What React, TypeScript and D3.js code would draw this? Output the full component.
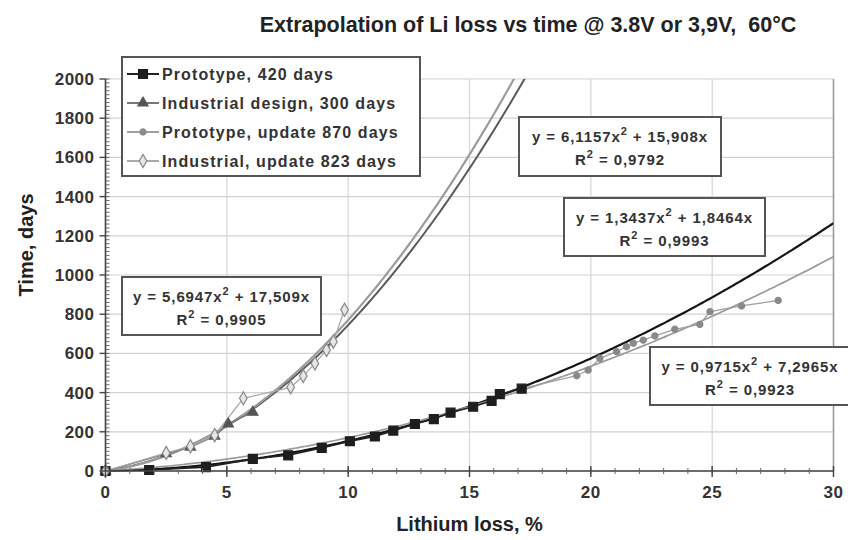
import React from "react";
import * as d3 from "d3";

const W = 848;
const H = 540;

// Prototype cell, 420 days
const prototypeLoss = [0, 1.8, 4.14, 6.07, 7.53, 8.91, 10.07, 11.1, 11.86, 12.75, 13.53, 14.22, 15.15, 15.91, 16.25, 17.15];
const prototypeDays = [0, 5, 20, 62, 80, 118, 152, 176, 206, 240, 265, 298, 328, 358, 392, 420];

// Industrial design, 300 days
const industrialLoss = [0, 2.5, 3.5, 4.5, 5.06, 6.07];
const industrialDays = [0, 88, 122, 178, 240, 300];

// Prototype, update 870 days
const protoUpdateLoss = [17.15, 19.42, 19.89, 20.37, 21.06, 21.47, 21.75, 22.16, 22.64, 23.46, 24.49, 24.91, 26.21, 27.72];
const protoUpdateDays = [420, 486, 515, 575, 609, 634, 652, 668, 689, 723, 748, 813, 842, 870];

// Industrial, update 823 days
const indUpdateLoss = [0, 2.5, 3.5, 4.5, 5.68, 7.63, 8.15, 8.63, 9.11, 9.39, 9.85];
const indUpdateDays = [0, 92, 126, 183, 371, 427, 485, 549, 617, 660, 823];

const seriesNames = [
  "Prototype, 420 days",
  "Industrial design, 300 days",
  "Prototype, update 870 days",
  "Industrial, update 823 days",
];

// quadratic trend lines y = a x^2 + b x
const fitA = [1.3437, 5.6947, 0.9715, 6.1157];
const fitB = [1.8464, 17.509, 7.2965, 15.908];
const fitEqA = ["1,3437", "5,6947", "0,9715", "6,1157"];
const fitEqB = ["1,8464", "17,509", "7,2965", "15,908"];
const fitR2 = ["0,9993", "0,9905", "0,9923", "0,9792"];

const xTicks = [0, 5, 10, 15, 20, 25, 30];
const yTicks = [0, 200, 400, 600, 800, 1000, 1200, 1400, 1600, 1800, 2000];

const title = "Extrapolation of Li loss vs time @ 3.8V or 3,9V,  60°C";
const xTitle = "Lithium loss, %";
const yTitle = "Time, days";

const FONT = "'Liberation Sans', Arial, Helvetica, sans-serif";

// placement of the trend-equation boxes (left, top, width, height)
const eqBoxes = [
  [564, 198, 201, 58],
  [122, 277, 199, 58],
  [650, 347, 200, 58],
  [519, 117, 202, 59],
];

const fitStyle = [
  { stroke: "#151515", width: 2.2 },
  { stroke: "#5a5a5a", width: 2 },
  { stroke: "#9a9a9a", width: 1.7 },
  { stroke: "#9c9c9c", width: 2.2 },
];

const seriesStyle = [
  { line: "#222", lw: 1.6, symbol: d3.symbolSquare, size: 80, fill: "#1e1e1e", stroke: "#1e1e1e" },
  { line: "#777", lw: 1.3, symbol: d3.symbolTriangle, size: 45, fill: "#555", stroke: "#555" },
  { line: "#a0a0a0", lw: 1.3, symbol: d3.symbolCircle, size: 30, fill: "#8a8a8a", stroke: "#8a8a8a" },
  { line: "#aaa", lw: 1.3, symbol: d3.symbolDiamond, size: 50, fill: "#e6e6e6", stroke: "#888" },
];

export default function App() {
  const x = d3.scaleLinear().domain([0, 30]).range([105.5, 833.5]);
  const y = d3.scaleLinear().domain([0, 2000]).range([471, 79]);

  const series = [
    d3.zip(prototypeLoss, prototypeDays),
    d3.zip(industrialLoss, industrialDays),
    d3.zip(protoUpdateLoss, protoUpdateDays),
    d3.zip(indUpdateLoss, indUpdateDays),
  ];

  const line = d3
    .line<number[]>()
    .x((d) => x(d[0]))
    .y((d) => y(d[1]));

  const fitPaths = fitA.map((a, i) => {
    const b = fitB[i];
    const pts = d3.range(0, 30.01, 0.1).map((v) => [v, a * v * v + b * v]);
    return line(pts.filter((p, k) => k === 0 || pts[k - 1][1] <= 2000));
  });

  const [x0, x1] = x.range();
  const [yb, yt] = y.range();

  const minorY = d3.range(0, 2001, 20);
  const minorX = d3.range(0, 31, 1);

  const legendRows = [74, 103, 132, 161];

  return (
    <svg
      width={W}
      height={H}
      style={{ position: "absolute", left: 0, top: 0, background: "#fff" }}
      fontFamily={FONT}
    >
      <defs>
        <clipPath id="plot">
          <rect x={x0} y={yt} width={x1 - x0} height={yb - yt} />
        </clipPath>
      </defs>
      <rect width={W} height={H} fill="#fff" />

      {/* grid */}
      {yTicks.map((t) => (
        <line key={"gy" + t} x1={x0} x2={x1} y1={y(t)} y2={y(t)} stroke="#d2d2d2" strokeWidth={1.2} />
      ))}
      {xTicks.map((t) => (
        <line key={"gx" + t} x1={x(t)} x2={x(t)} y1={yt} y2={yb} stroke="#d6d6d6" strokeWidth={1.2} />
      ))}
      <line x1={x1} x2={x1} y1={yt} y2={yb} stroke="#999" strokeWidth={1.5} />

      {/* trend lines */}
      <g clipPath="url(#plot)">
        {fitPaths.map((p, i) => (
          <path key={"fit" + i} d={p || ""} fill="none" stroke={fitStyle[i].stroke} strokeWidth={fitStyle[i].width} />
        ))}
      </g>

      {/* measured series */}
      {series.map((s, i) => (
        <path key={"ln" + i} d={line(s) || ""} fill="none" stroke={seriesStyle[i].line} strokeWidth={seriesStyle[i].lw} />
      ))}
      {[1, 2, 0, 3].map((i) =>
        series[i].map((d, k) => (
          <path
            key={"m" + i + "-" + k}
            d={d3.symbol().type(seriesStyle[i].symbol).size(seriesStyle[i].size)() || ""}
            transform={`translate(${x(d[0])},${y(d[1])})`}
            fill={seriesStyle[i].fill}
            stroke={seriesStyle[i].stroke}
            strokeWidth={1.2}
          />
        ))
      )}

      {/* axes */}
      <line x1={x0} x2={x0} y1={yt} y2={yb} stroke="#444" strokeWidth={1.6} />
      <line x1={x0} x2={x1} y1={yb} y2={yb} stroke="#444" strokeWidth={1.6} />
      {minorY.map((t) => (
        <line key={"my" + t} x1={x0} x2={x0 + 4} y1={y(t)} y2={y(t)} stroke="#666" strokeWidth={1} />
      ))}
      {yTicks.map((t) => (
        <line key={"ty" + t} x1={x0 - 6} x2={x0} y1={y(t)} y2={y(t)} stroke="#444" strokeWidth={1.4} />
      ))}
      {minorX.map((t) => (
        <line key={"mx" + t} x1={x(t)} x2={x(t)} y1={yb - 3} y2={yb + 3} stroke="#666" strokeWidth={1} />
      ))}
      {xTicks.map((t) => (
        <line key={"tx" + t} x1={x(t)} x2={x(t)} y1={yb - 5} y2={yb + 6} stroke="#444" strokeWidth={1.4} />
      ))}

      {yTicks.map((t) => (
        <text key={"ly" + t} x={x0 - 11} y={y(t) + 6} textAnchor="end" fontSize={17} fontWeight="bold" fill="#333" letterSpacing={0.5}>
          {t}
        </text>
      ))}
      {xTicks.map((t) => (
        <text key={"lx" + t} x={x(t)} y={498} textAnchor="middle" fontSize={17} fontWeight="bold" fill="#333" letterSpacing={0.5}>
          {t}
        </text>
      ))}

      <text x={(x0 + x1) / 2} y={531} textAnchor="middle" fontSize={20} fontWeight="bold" fill="#222">
        {xTitle}
      </text>
      <text
        transform={`translate(33,${(yt + yb) / 2 - 30}) rotate(-90)`}
        textAnchor="middle"
        fontSize={20}
        fontWeight="bold"
        fill="#222"
      >
        {yTitle}
      </text>
      <text x={528} y={32} textAnchor="middle" fontSize={21.5} fontWeight="bold" fill="#222" style={{ whiteSpace: "pre" }}>
        {title}
      </text>

      {/* legend */}
      <rect x={122} y={57} width={298} height={119} fill="#fff" stroke="#555" strokeWidth={2} />
      {seriesNames.map((name, i) => (
        <g key={"lg" + i}>
          <line x1={127} x2={159} y1={legendRows[i]} y2={legendRows[i]} stroke={seriesStyle[i].line} strokeWidth={2} />
          <path
            d={d3.symbol().type(seriesStyle[i].symbol).size(seriesStyle[i].size)() || ""}
            transform={`translate(143,${legendRows[i]})`}
            fill={seriesStyle[i].fill}
            stroke={seriesStyle[i].stroke}
            strokeWidth={1.2}
          />
          <text x={162} y={legendRows[i] + 6} fontSize={16} fontWeight="bold" fill="#333" letterSpacing={1.1}>
            {name}
          </text>
        </g>
      ))}

      {/* trend equations */}
      {eqBoxes.map(([bx, by, bw, bh], i) => (
        <g key={"eq" + i}>
          <rect x={bx} y={by} width={bw} height={bh} fill="#fff" stroke="#555" strokeWidth={2} />
          <text x={bx + bw / 2} y={by + 25} textAnchor="middle" fontSize={15} fontWeight="bold" fill="#333" letterSpacing={0.9}>
            {`y = ${fitEqA[i]}x`}
            <tspan dy={-7} fontSize={11}>2</tspan>
            <tspan dy={7}>{` + ${fitEqB[i]}x`}</tspan>
          </text>
          <text x={bx + bw / 2} y={by + 48} textAnchor="middle" fontSize={15} fontWeight="bold" fill="#333" letterSpacing={0.9}>
            {"R"}
            <tspan dy={-7} fontSize={11}>2</tspan>
            <tspan dy={7}>{` = ${fitR2[i]}`}</tspan>
          </text>
        </g>
      ))}
    </svg>
  );
}
